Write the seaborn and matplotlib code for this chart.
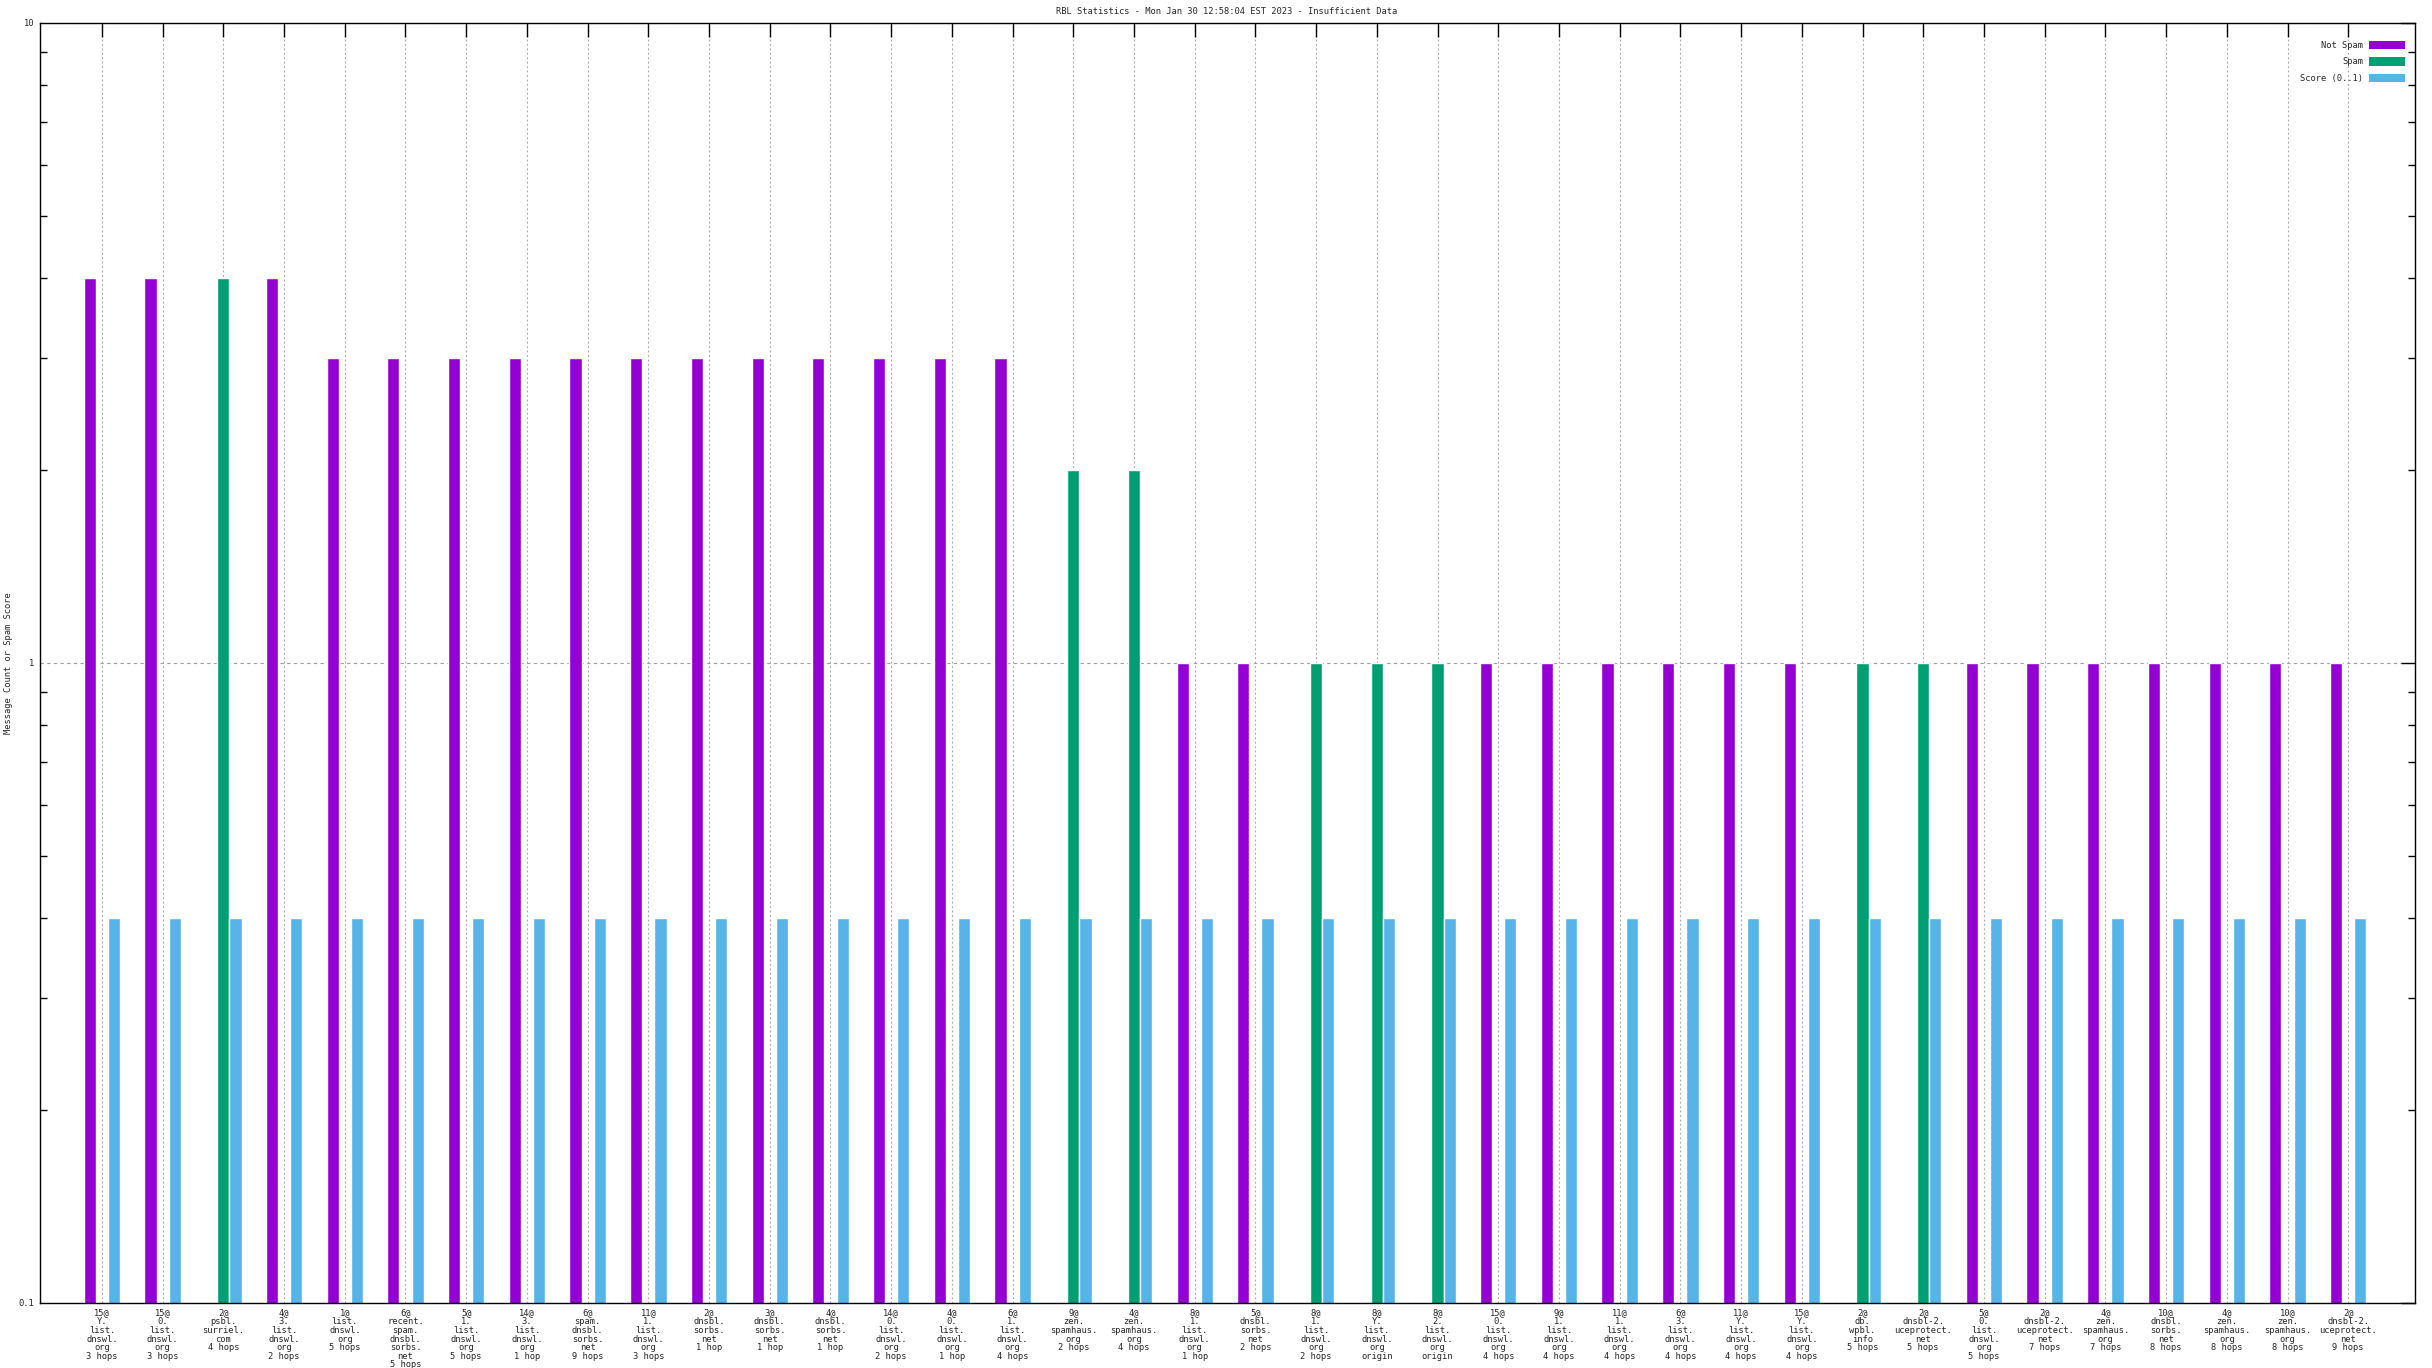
import numpy as np
import pandas as pd
import matplotlib
matplotlib.use("Agg")
import matplotlib.pyplot as plt
import seaborn as sns
from matplotlib.ticker import LogLocator, FixedLocator, NullFormatter, FixedFormatter
from matplotlib.patches import Patch

categories = [
    "15@\nY.\nlist.\ndnswl.\norg\n3 hops",
    "15@\n0.\nlist.\ndnswl.\norg\n3 hops",
    "2@\npsbl.\nsurriel.\ncom\n4 hops",
    "4@\n3.\nlist.\ndnswl.\norg\n2 hops",
    "1@\nlist.\ndnswl.\norg\n5 hops",
    "6@\nrecent.\nspam.\ndnsbl.\nsorbs.\nnet\n5 hops",
    "5@\n1.\nlist.\ndnswl.\norg\n5 hops",
    "14@\n3.\nlist.\ndnswl.\norg\n1 hop",
    "6@\nspam.\ndnsbl.\nsorbs.\nnet\n9 hops",
    "11@\n1.\nlist.\ndnswl.\norg\n3 hops",
    "2@\ndnsbl.\nsorbs.\nnet\n1 hop",
    "3@\ndnsbl.\nsorbs.\nnet\n1 hop",
    "4@\ndnsbl.\nsorbs.\nnet\n1 hop",
    "14@\n0.\nlist.\ndnswl.\norg\n2 hops",
    "4@\n0.\nlist.\ndnswl.\norg\n1 hop",
    "6@\n1.\nlist.\ndnswl.\norg\n4 hops",
    "9@\nzen.\nspamhaus.\norg\n2 hops",
    "4@\nzen.\nspamhaus.\norg\n4 hops",
    "8@\n1.\nlist.\ndnswl.\norg\n1 hop",
    "5@\ndnsbl.\nsorbs.\nnet\n2 hops",
    "8@\n1.\nlist.\ndnswl.\norg\n2 hops",
    "8@\nY.\nlist.\ndnswl.\norg\norigin",
    "8@\n2.\nlist.\ndnswl.\norg\norigin",
    "15@\n0.\nlist.\ndnswl.\norg\n4 hops",
    "9@\n1.\nlist.\ndnswl.\norg\n4 hops",
    "11@\n1.\nlist.\ndnswl.\norg\n4 hops",
    "6@\n3.\nlist.\ndnswl.\norg\n4 hops",
    "11@\nY.\nlist.\ndnswl.\norg\n4 hops",
    "15@\nY.\nlist.\ndnswl.\norg\n4 hops",
    "2@\ndb.\nwpbl.\ninfo\n5 hops",
    "2@\ndnsbl-2.\nuceprotect.\nnet\n5 hops",
    "5@\n0.\nlist.\ndnswl.\norg\n5 hops",
    "2@\ndnsbl-2.\nuceprotect.\nnet\n7 hops",
    "4@\nzen.\nspamhaus.\norg\n7 hops",
    "10@\ndnsbl.\nsorbs.\nnet\n8 hops",
    "4@\nzen.\nspamhaus.\norg\n8 hops",
    "10@\nzen.\nspamhaus.\norg\n8 hops",
    "2@\ndnsbl-2.\nuceprotect.\nnet\n9 hops",
]

not_spam = [4, 4, None, 4, 3, 3, 3, 3, 3, 3, 3, 3, 3, 3, 3, 3, None, None,
            1, 1, None, None, None, 1, 1, 1, 1, 1, 1, None, None, 1, 1, 1, 1, 1, 1, 1]
spam = [None, None, 4, None, None, None, None, None, None, None, None, None, None,
        None, None, None, 2, 2, None, None, 1, 1, 1, None, None, None, None, None,
        None, 1, 1, None, None, None, None, None, None, None]
score = [0.4] * 38

series_names = ["Not Spam", "Spam", "Score (0..1)"]
colors = ["#9400D3", "#009E73", "#56B4E9"]
y_ticks = [0.1, 1, 10]
y_tick_labels = ["0.1", "1", "10"]
title = "RBL Statistics - Mon Jan 30 12:58:04 EST 2023 - Insufficient Data"
y_label = "Message Count or Spam Score"

rows = []
for name, vals in zip(series_names, [not_spam, spam, score]):
    for c, v in zip(categories, vals):
        rows.append({"cat": c, "series": name, "value": np.nan if v is None else v})
df = pd.DataFrame(rows)

sns.set_style("white")
plt.rcParams["font.family"] = ["DejaVu Sans Mono", "DejaVu Sans"]

fig = plt.figure(figsize=(24.32, 13.68), dpi=100)
ax = fig.add_axes([40 / 2432, 1 - 1303 / 1368, (2415 - 40) / 2432, (1303 - 23) / 1368])

sns.barplot(data=df, x="cat", y="value", hue="series", order=categories,
            hue_order=series_names, palette=colors, width=0.6, dodge=True,
            errorbar=None, saturation=1, ax=ax, legend=False, zorder=3)

ax.set_yscale("log")
ax.set_ylim(0.1, 10)
ax.set_xlim(-1.02, 38.1)

ax.yaxis.set_major_locator(FixedLocator(y_ticks))
ax.yaxis.set_major_formatter(FixedFormatter(y_tick_labels))
ax.yaxis.set_minor_locator(LogLocator(base=10, subs=np.arange(2, 10)))
ax.yaxis.set_minor_formatter(NullFormatter())

for sp in ax.spines.values():
    sp.set_color("black")
    sp.set_linewidth(1.0)
    sp.set_zorder(5)

ax.tick_params(axis="both", which="major", direction="in", length=10, width=1,
               color="black", top=True, right=True, labelsize=6.3, pad=4)
ax.tick_params(axis="y", which="minor", direction="in", length=5, width=1,
               color="black", left=True, right=True)
for lab in ax.get_xticklabels():
    lab.set_linespacing(0.95)
    lab.set_fontsize(6.3)

ax.grid(True, axis="x", which="major", color="#a0a0a0", linestyle=(0, (1.5, 2.5)), linewidth=0.8, zorder=0)
ax.grid(True, axis="y", which="major", color="#a0a0a0", linestyle=(0, (3, 3)), linewidth=0.8, zorder=0)
ax.set_axisbelow(True)

ax.set_xlabel("")
ax.set_ylabel(y_label, fontsize=6.3)
ax.yaxis.set_label_coords(-0.0112, 0.5)
fig.text(0.5045, 1 - 12 / 1368, title, ha="center", va="center", fontsize=6.3)

handles = [Patch(facecolor=c, edgecolor="none") for c in colors]
ax.legend(handles, series_names, loc="upper right", bbox_to_anchor=(0.9985, 0.991),
          markerfirst=False, frameon=False, fontsize=6.3, handlelength=4.2,
          handleheight=1.1, labelspacing=0.85, handletextpad=0.6, borderpad=0.2)

fig.savefig("out.png", dpi=100)
